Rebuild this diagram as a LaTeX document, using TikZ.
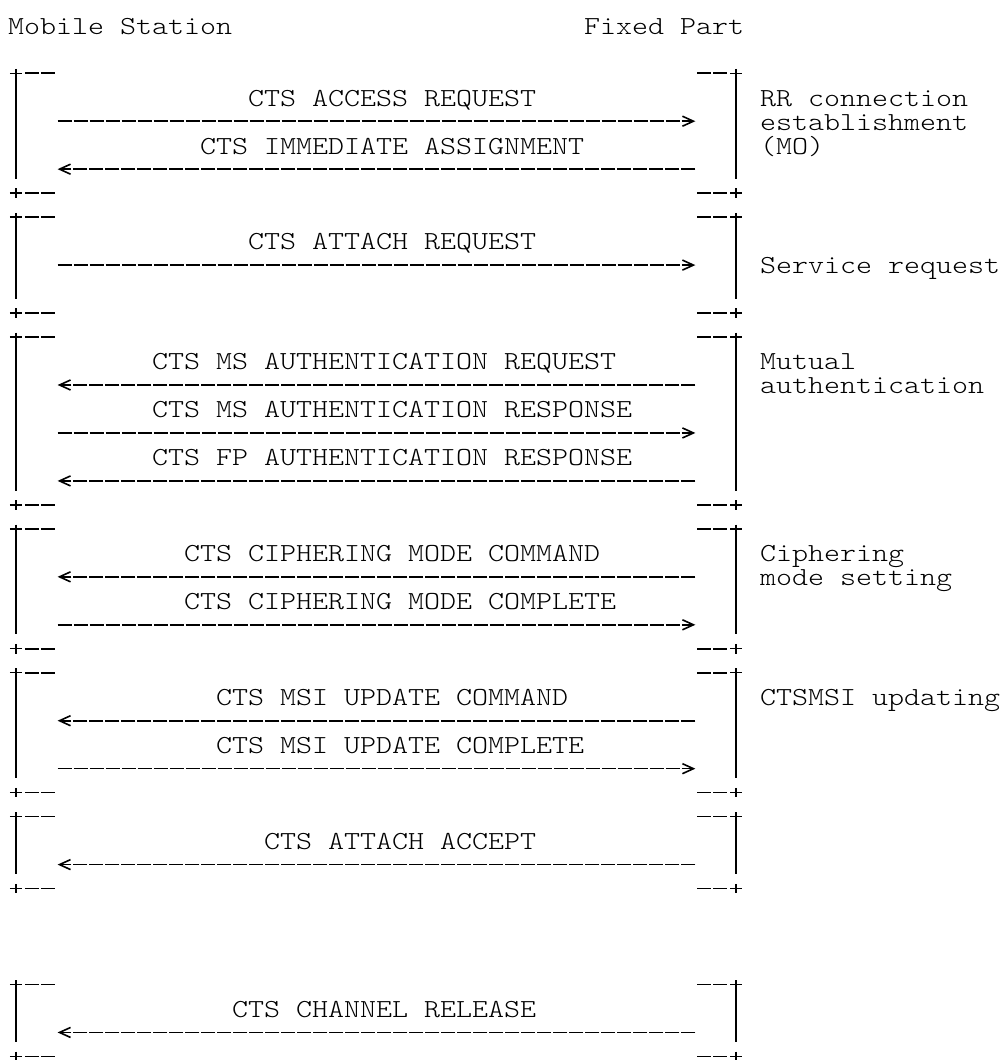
\documentclass[tikz,border=0pt]{standalone}
\usepackage{fontspec}
\newfontfamily\msgfont{lmmonolt10-regular.otf}[FakeStretch=1.1722]
\usetikzlibrary{arrows.meta}

% one frame: "+--" ... "--+" rows with the two side bars
\newcommand{\frameblock}[2]{%
  \draw[bar] (0,#1-0.18) -- (0,#2-0.6);
  \draw[bar] (45,#1-0.18) -- (45,#2-0.6);
  \draw[bar] (0,#2-0.2) -- (0,#2+0.2);
  \draw[bar] (45,#2-0.2) -- (45,#2+0.2);
  \foreach \y in {#1,#2} {
    \draw[bar] (-0.375,\y) -- (0.375,\y);
    \draw[dashes] (0.5625,\y) -- (2.456,\y);
    \draw[dashes] (42.5625,\y) -- (44.456,\y);
    \draw[bar] (44.625,\y) -- (45.375,\y);
  }%
}

\begin{document}
\begin{tikzpicture}[x=16pt, y=-23.98pt,
    txt/.style={font=\msgfont\fontsize{26pt}{24pt}\selectfont, inner sep=0pt, anchor=base west},
    bar/.style={line width=1.4pt},
    dashes/.style={line width=1.6pt, dash pattern=on 14.3pt off 1.7pt},
    tofp/.style={dashes, -{Straight Barb[length=11pt, width=10pt]}},
    toms/.style={dashes, -{Straight Barb[length=11pt, width=10pt]}}]
    \useasboundingbox (-1,-1.055) rectangle (61.625,43.149);

    % headers
    \node[txt] (ms) at (-0.5,0.37) {Mobile Station};
    \node[txt] (fp) at (35.5,0.37) {Fixed Part};

    % RR connection establishment
    \frameblock{2}{7}
    \node[txt] (accreq) at (14.5,3.37) {CTS ACCESS REQUEST};
    \coordinate (ms4) at (2.6,4); \coordinate (fp4) at (42.46,4);
    \draw[tofp] (ms4) -- (fp4);
    \node[txt] (immass) at (11.5,5.37) {CTS IMMEDIATE ASSIGNMENT};
    \coordinate (ms6) at (2.6,6); \coordinate (fp6) at (42.46,6);
    \draw[toms] (fp6) -- (ms6);
    \node[txt] (rr1) at (46.5,3.37) {RR connection};
    \node[txt] (rr2) at (46.5,4.37) {establishment};
    \node[txt] (rr3) at (46.5,5.37) {(MO)};

    % service request
    \frameblock{8}{12}
    \node[txt] (attreq) at (14.5,9.37) {CTS ATTACH REQUEST};
    \coordinate (ms10) at (2.6,10); \coordinate (fp10) at (42.46,10);
    \draw[tofp] (ms10) -- (fp10);
    \node[txt] (serv) at (46.5,10.37) {Service request};

    % mutual authentication
    \frameblock{13}{20}
    \node[txt] (msareq) at (8.5,14.37) {CTS MS AUTHENTICATION REQUEST};
    \coordinate (ms15) at (2.6,15); \coordinate (fp15) at (42.46,15);
    \draw[toms] (fp15) -- (ms15);
    \node[txt] (msares) at (8.5,16.37) {CTS MS AUTHENTICATION RESPONSE};
    \coordinate (ms17) at (2.6,17); \coordinate (fp17) at (42.46,17);
    \draw[tofp] (ms17) -- (fp17);
    \node[txt] (fpares) at (8.5,18.37) {CTS FP AUTHENTICATION RESPONSE};
    \coordinate (ms19) at (2.6,19); \coordinate (fp19) at (42.46,19);
    \draw[toms] (fp19) -- (ms19);
    \node[txt] (auth1) at (46.5,14.37) {Mutual};
    \node[txt] (auth2) at (46.5,15.37) {authentication};

    % ciphering mode setting
    \frameblock{21}{26}
    \node[txt] (ciphcmd) at (10.5,22.37) {CTS CIPHERING MODE COMMAND};
    \coordinate (ms23) at (2.6,23); \coordinate (fp23) at (42.46,23);
    \draw[toms] (fp23) -- (ms23);
    \node[txt] (ciphcmp) at (10.5,24.37) {CTS CIPHERING MODE COMPLETE};
    \coordinate (ms25) at (2.6,25); \coordinate (fp25) at (42.46,25);
    \draw[tofp] (ms25) -- (fp25);
    \node[txt] (ciph1) at (46.5,22.37) {Ciphering};
    \node[txt] (ciph2) at (46.5,23.37) {mode setting};

    % CTSMSI updating
    \frameblock{27}{32}
    \node[txt] (msicmd) at (12.5,28.37) {CTS MSI UPDATE COMMAND};
    \coordinate (ms29) at (2.6,29); \coordinate (fp29) at (42.46,29);
    \draw[toms] (fp29) -- (ms29);
    \node[txt] (msicmp) at (12.5,30.37) {CTS MSI UPDATE COMPLETE};
    \coordinate (ms31) at (2.6,31); \coordinate (fp31) at (42.46,31);
    \draw[tofp] (ms31) -- (fp31);
    \node[txt] (msiupd) at (46.5,28.37) {CTSMSI updating};

    % attach accept
    \frameblock{33}{36}
    \node[txt] (attacc) at (15.5,34.37) {CTS ATTACH ACCEPT};
    \coordinate (ms35) at (2.6,35); \coordinate (fp35) at (42.46,35);
    \draw[toms] (fp35) -- (ms35);

    % channel release
    \frameblock{40}{43}
    \node[txt] (chrel) at (13.5,41.37) {CTS CHANNEL RELEASE};
    \coordinate (ms42) at (2.6,42); \coordinate (fp42) at (42.46,42);
    \draw[toms] (fp42) -- (ms42);
\end{tikzpicture}
\end{document}
